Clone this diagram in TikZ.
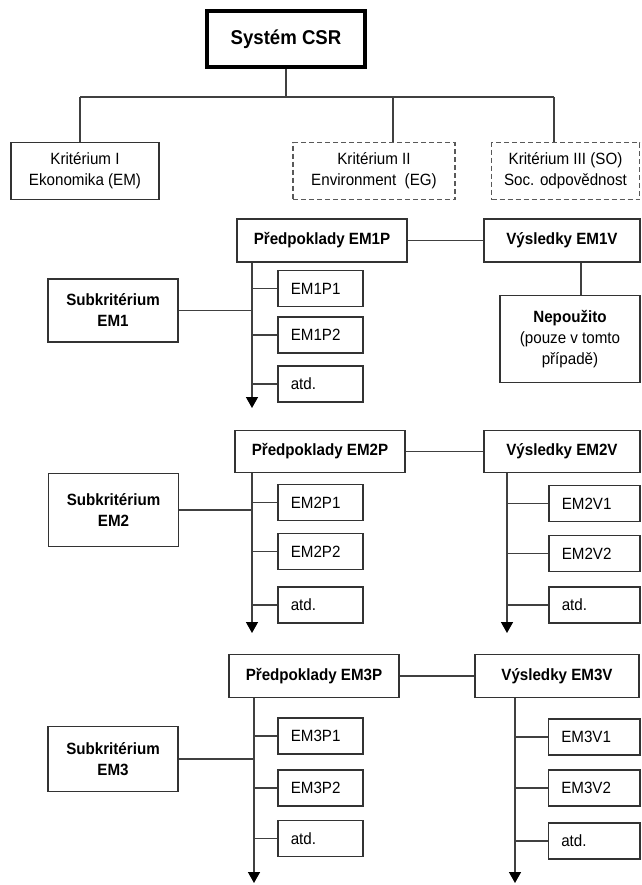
\documentclass[tikz,border=0pt]{standalone}
\usepackage{fontspec}
\setmainfont{Liberation Sans}[FakeStretch=0.93]
\usetikzlibrary{arrows.meta}
\begin{document}
\begin{tikzpicture}[x=0.5pt,y=-0.5pt,
  font=\fontsize{8.15pt}{10.5pt}\selectfont,
  box/.style={draw=black!80,line width=0.8pt,align=center,inner sep=2pt},
  dbox/.style={box,draw=black!65,dash pattern=on 2.5pt off 1.5pt},
  head/.style={box,font=\fontsize{8.15pt}{10.5pt}\selectfont\bfseries},
  leaf/.style={draw=black!80,line width=0.8pt,minimum height=18pt,text width=#1,align=left,inner xsep=6.5pt},
  link/.style={draw=black!75,line width=0.75pt},
  down/.style={link,-{Triangle[length=5.5pt,width=6pt,color=black]}}]
  \useasboundingbox (0,0) rectangle (642,885);
  \node[box,draw=black,line width=2.2pt,minimum width=79pt,minimum height=28pt,
        font=\fontsize{10pt}{12pt}\selectfont\bfseries] (csr) at (286,39) {Systém CSR};
  \node[box,minimum width=74pt,minimum height=28.5pt] (k1) at (85,171) {Kritérium I\\Ekonomika (EM)};
  \node[dbox,minimum width=81pt,minimum height=28.5pt] (k2) at (374,171) {Kritérium II\\Environment\ \ (EG)};
  \node[dbox,minimum width=74pt,minimum height=28.5pt] (k3) at (565.5,171) {Kritérium III (SO)\\Soc. odpovědnost};
  \coordinate (b1) at (80,97);
  \coordinate (b2) at (393,97);
  \coordinate (b3) at (554,97);
  \draw[link] (csr.south) -- (csr.south |- b1);
  \draw[link] (b1) -- (b3);
  \draw[link] (b1) -- (b1 |- k1.north);
  \draw[link] (b2) -- (b2 |- k2.north);
  \draw[link] (b3) -- (b3 |- k3.north);

  \node[head,minimum width=85pt,minimum height=21.7pt] (p1) at (322,240.5) {Předpoklady EM1P};
  \node[head,minimum width=78pt,minimum height=21.7pt] (v1) at (562,240.5) {Výsledky EM1V};
  \draw[link] (p1) -- (v1);
  \node[head,minimum width=65pt,minimum height=31.7pt] (s1) at (113,310.5) {Subkritérium\\EM1};
  \coordinate (a1) at (252,408);
  \draw[down] (a1 |- p1.south) -- (a1);
  \foreach \n/\t/\y in {p11/EM1P1/288.5,p12/EM1P2/335,p13/atd./384}{
    \node[leaf=29.7pt] (\n) at (320.5,\y) {\t};
    \draw[link] (\n.west -| a1) -- (\n.west);
  }
  \draw[link] (s1.east) -- (s1.east -| a1);
  \node[box,minimum width=70pt,minimum height=43.5pt] (n1) at (570,339) {\textbf{Nepoužito}\\(pouze v tomto\\případě)};
  \draw[link] ([xshift=5.5pt]n1.north |- v1.south) -- ([xshift=5.5pt]n1.north);

  \node[head,minimum width=85pt,minimum height=21pt] (p2) at (320,451.5) {Předpoklady EM2P};
  \node[head,minimum width=78pt,minimum height=21pt] (v2) at (562,451.5) {Výsledky EM2V};
  \draw[link] (p2) -- (v2);
  \node[head,minimum width=65pt,minimum height=36.5pt] (s2) at (113.5,510) {Subkritérium\\EM2};
  \coordinate (a2) at (252,633);
  \coordinate (c2) at (507,633);
  \draw[down] (a2 |- p2.south) -- (a2);
  \draw[down] (c2 |- v2.south) -- (c2);
  \foreach \n/\t/\y in {p21/EM2P1/502.5,p22/EM2P2/551.5,p23/atd./605}{
    \node[leaf=29.7pt] (\n) at (320.5,\y) {\t};
    \draw[link] (\n.west -| a2) -- (\n.west);
  }
  \foreach \n/\t/\y in {v21/EM2V1/503.5,v22/EM2V2/553.5,v23/atd./605}{
    \node[leaf=32.7pt] (\n) at (594.5,\y) {\t};
    \draw[link] (\n.west -| c2) -- (\n.west);
  }
  \draw[link] (s2.east) -- (s2.east -| a2);

  \node[head,minimum width=85pt,minimum height=21.5pt] (p3) at (314,676) {Předpoklady EM3P};
  \node[head,minimum width=82pt,minimum height=21.5pt] (v3) at (557,676) {Výsledky EM3V};
  \draw[link] (p3) -- (v3);
  \node[head,minimum width=65pt,minimum height=32.5pt] (s3) at (113,759) {Subkritérium\\EM3};
  \coordinate (a3) at (254,883);
  \coordinate (c3) at (515,883);
  \draw[down] (a3 |- p3.south) -- (a3);
  \draw[down] (c3 |- v3.south) -- (c3);
  \foreach \n/\t/\y in {p31/EM3P1/736,p32/EM3P2/788,p33/atd./838.5}{
    \node[leaf=29.7pt] (\n) at (320.5,\y) {\t};
    \draw[link] (\n.west -| a3) -- (\n.west);
  }
  \foreach \n/\t/\y in {v31/EM3V1/737,v32/EM3V2/788,v33/atd./841}{
    \node[leaf=32.7pt] (\n) at (594,\y) {\t};
    \draw[link] (\n.west -| c3) -- (\n.west);
  }
  \draw[link] (s3.east) -- (s3.east -| a3);
\end{tikzpicture}
\end{document}
